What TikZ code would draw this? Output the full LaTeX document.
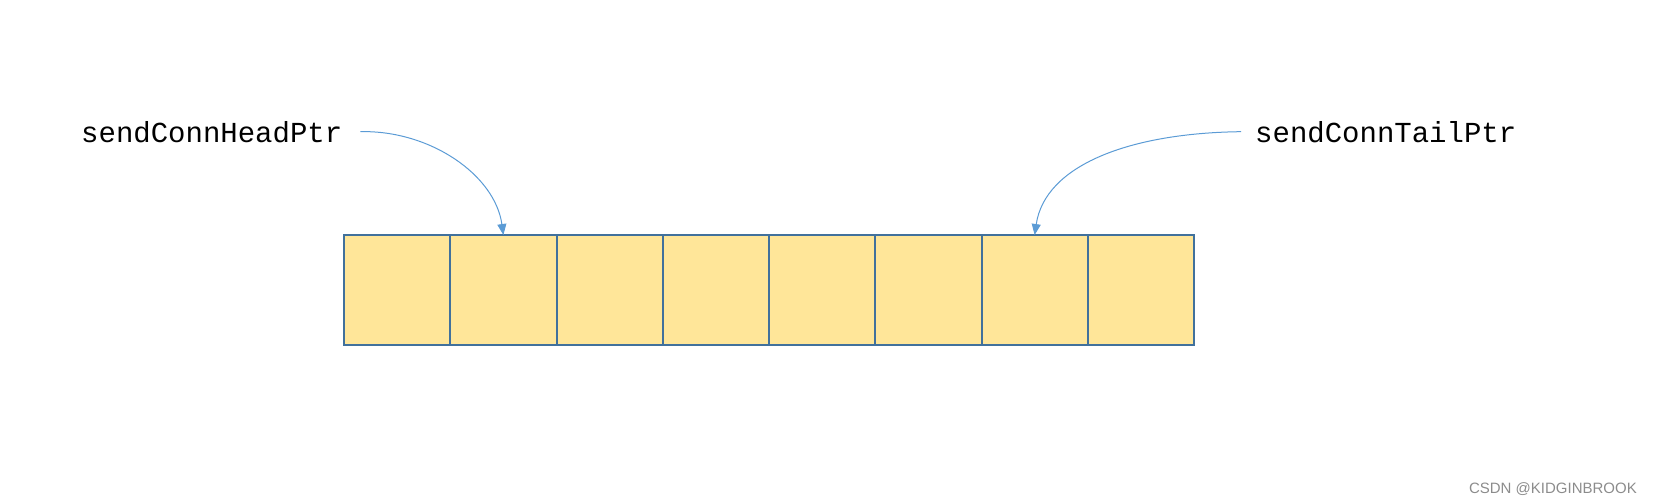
\documentclass[tikz,border=0pt]{standalone}
\usepackage{fontspec}
\setmainfont{Liberation Sans}
\newfontfamily\codefont{Liberation Mono}
\usetikzlibrary{arrows.meta}
\definecolor{cellfill}{HTML}{FFE699}
\definecolor{cellline}{HTML}{41719C}
\definecolor{ptrline}{HTML}{5B9BD5}
\tikzset{
  cell/.style={draw=cellline, fill=cellfill, line width=2pt, minimum width=106.25pt, minimum height=110pt, inner sep=0pt, outer sep=0pt},
  ptrlabel/.style={font=\codefont\fontsize{29}{33}\selectfont, inner sep=0pt, anchor=base west},
  ptrarrow/.style={draw=ptrline, line width=1pt, -{Triangle[length=11pt,width=9pt]}},
  mark text/.style={font=\fontsize{15}{17}\selectfont, text=black!45, anchor=base east, inner sep=0pt}
}
\begin{document}
\begin{tikzpicture}[x=1pt,y=-1pt]
\useasboundingbox (0,0) rectangle (1653,503);
\foreach \i in {1,...,8} {
  \node[cell] (c\i) at ({344+106.25*(\i-0.5)},290) {};
}
\node[ptrlabel] (lh) at (81,142) {sendConnHeadPtr};
\node[ptrlabel] (lt) at (1255,142) {sendConnTailPtr};
\draw[ptrarrow] ([xshift=18pt]lh.east) .. controls (430,130) and (495,175) .. (c2.north);
\draw[ptrarrow] ([xshift=-14pt]lt.west) .. controls (1130,133) and (1045,165) .. (c7.north);
\node[mark text] (wm) at (1637,493) {CSDN @KIDGINBROOK};
\end{tikzpicture}
\end{document}
